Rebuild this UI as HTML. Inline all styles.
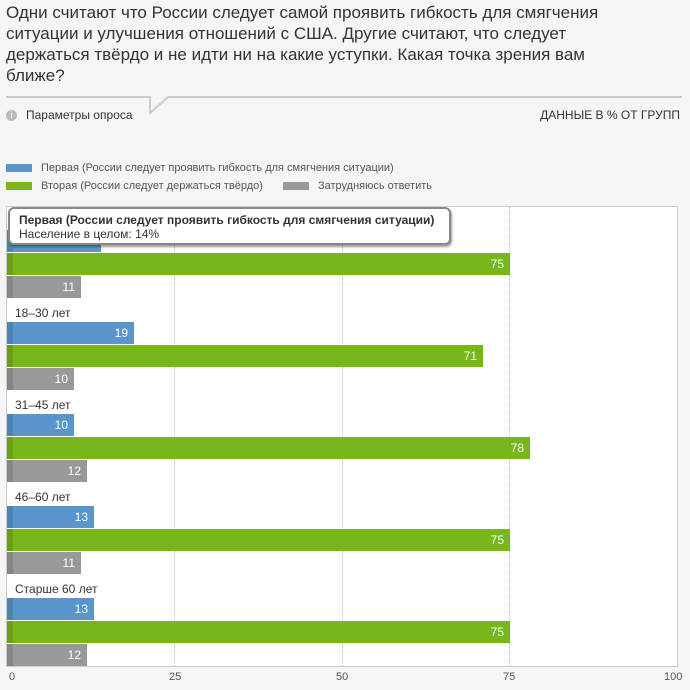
<!DOCTYPE html>
<html><head><meta charset="utf-8"><style>
body{margin:0;width:690px;height:690px;background:#f5f5f5;font-family:"Liberation Sans",sans-serif;position:relative;overflow:hidden;color:#333}
.a{position:absolute}
.t{left:6px;top:2px;width:690px;font-size:17px;line-height:21px;color:#333;white-space:nowrap}
.bar{position:absolute;height:22px;left:7px;color:#fff;font-size:12px;line-height:22px;text-align:right;box-sizing:border-box;padding-right:6px}
.bar:before{content:"";position:absolute;left:0;top:0;bottom:0;width:6px;background:rgba(0,0,0,.12)}
.b{background:#5a96cb}.g{background:#78b71a}.y{background:#999}
.lab{position:absolute;left:15px;font-size:12px;color:#333}
.grid{position:absolute;top:207px;height:459px;border-left:1px dotted #bbb}
.tick{position:absolute;top:671px;font-size:11px;color:#555}
</style></head><body>
<div class="a t">Одни считают что России следует самой проявить гибкость для смягчения<br>ситуации и улучшения отношений с США. Другие считают, что следует<br>держаться твёрдо и не идти ни на какие уступки. Какая точка зрения вам<br>ближе?</div>
<svg class="a" style="left:0;top:90px" width="690" height="30"><polyline points="6,7 150,7 150,23 168,7 682,7" fill="none" stroke="#ccc" stroke-width="2"/></svg>
<div class="a" style="left:6px;top:110px;width:11px;height:11px;border-radius:50%;background:#bbb;color:#fff;font-size:9px;line-height:11px;text-align:center">i</div>
<div class="a" style="left:26px;top:108px;font-size:12px">Параметры опроса</div>
<div class="a" style="right:10px;top:108px;font-size:12px">ДАННЫЕ В % ОТ ГРУПП</div>
<div class="a" style="left:6px;top:164px;width:26px;height:8px;background:#5a96cb"></div>
<div class="a" style="left:41px;top:162px;font-size:11px;color:#555">Первая (России следует проявить гибкость для смягчения ситуации)</div>
<div class="a" style="left:6px;top:182px;width:26px;height:8px;background:#78b71a"></div>
<div class="a" style="left:41px;top:180px;font-size:11px;color:#555">Вторая (России следует держаться твёрдо)</div>
<div class="a" style="left:283px;top:182px;width:26px;height:8px;background:#999"></div>
<div class="a" style="left:318px;top:180px;font-size:11px;color:#555">Затрудняюсь ответить</div>
<div class="a" style="left:6px;top:206px;width:670px;height:459px;background:#fff;border:1px solid #ccc"></div>
<div class="grid" style="left:174px"></div><div class="grid" style="left:342px"></div><div class="grid" style="left:509px"></div>
<div class="tick" style="left:9px">0</div><div class="tick" style="left:169px">25</div><div class="tick" style="left:336px">50</div><div class="tick" style="left:503px">75</div><div class="tick" style="left:664px">100</div>

<div class="bar b" style="top:230px;width:94px">14</div>
<div class="bar g" style="top:253px;width:503px">75</div>
<div class="bar y" style="top:276px;width:74px">11</div>

<div class="lab" style="top:306px">18–30 лет</div>
<div class="bar b" style="top:322px;width:127px">19</div>
<div class="bar g" style="top:345px;width:476px">71</div>
<div class="bar y" style="top:368px;width:67px">10</div>

<div class="lab" style="top:398px">31–45 лет</div>
<div class="bar b" style="top:414px;width:67px">10</div>
<div class="bar g" style="top:437px;width:523px">78</div>
<div class="bar y" style="top:460px;width:80px">12</div>

<div class="lab" style="top:490px">46–60 лет</div>
<div class="bar b" style="top:506px;width:87px">13</div>
<div class="bar g" style="top:529px;width:503px">75</div>
<div class="bar y" style="top:552px;width:74px">11</div>

<div class="lab" style="top:582px">Старше 60 лет</div>
<div class="bar b" style="top:598px;width:87px">13</div>
<div class="bar g" style="top:621px;width:503px">75</div>
<div class="bar y" style="top:644px;width:80px">12</div>

<div class="a" style="left:8px;top:207px;width:430px;height:34px;background:#fff;border:2px solid #888;border-radius:6px;box-shadow:1px 2px 2px rgba(0,0,0,.4);padding:0 0 0 9px;font-size:12px;line-height:14px;box-sizing:content-box">
<div style="font-weight:bold;margin-top:4px">Первая (России следует проявить гибкость для смягчения ситуации)</div>
<div>Население в целом: 14%</div></div>
</body></html>
